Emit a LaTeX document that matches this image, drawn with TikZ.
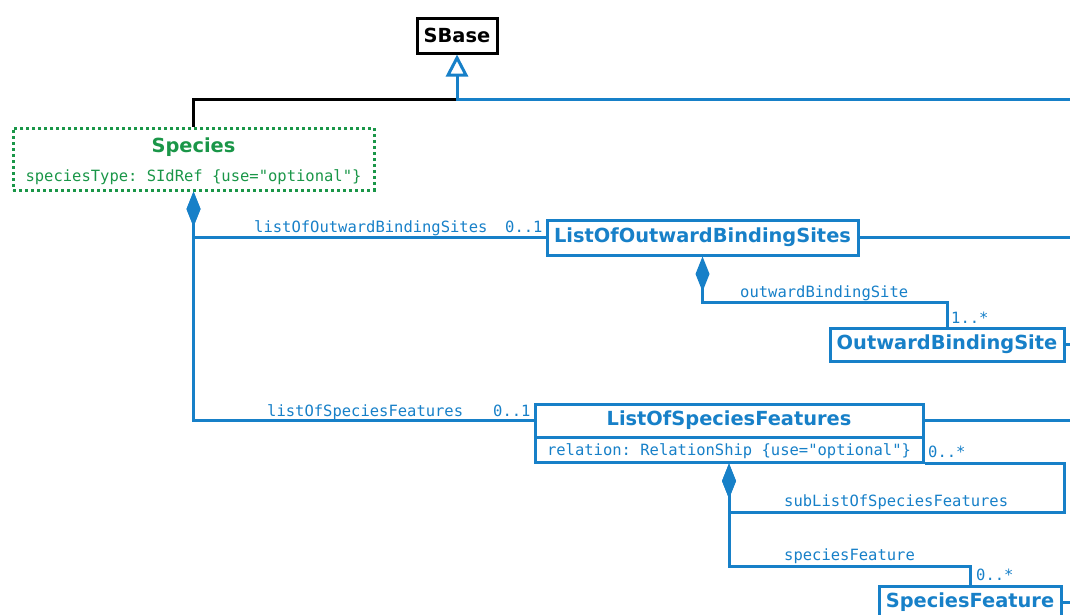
\documentclass[tikz,border=0pt]{standalone}
\usepackage{fontspec}
\setmainfont{DejaVu Sans}
\newfontfamily\monof{DejaVu Sans Mono}
\usetikzlibrary{arrows.meta}
\definecolor{umlblue}{RGB}{23,128,200}
\definecolor{umlgreen}{RGB}{26,150,72}
\frenchspacing
\tikzset{
  lw/.style={line width=3pt},
  cls/.style={draw=umlblue, lw, fill=white, inner sep=0pt,
    font=\bfseries\fontsize{19.4}{22}\selectfont, text=umlblue},
  attrbox/.style={draw=umlblue, lw, fill=white, inner sep=0pt,
    font=\monof\frenchspacing\fontsize{15.5}{18}\selectfont, text=umlblue},
  lbl/.style={font=\monof\frenchspacing\fontsize{15.5}{18}\selectfont, text=umlblue, inner sep=0pt, anchor=base west},
  assoc/.style={draw=umlblue, lw},
  comp/.style={assoc, {Diamond[length=35pt,width=14pt]}-},
  inh/.style={assoc, {Triangle[length=22pt,width=22pt,fill=white]}-},
}
\begin{document}
\begin{tikzpicture}[x=1pt,y=-1pt]
\useasboundingbox (0,0) rectangle (1070,614);
% classes
\node[cls, draw=black, text=black, minimum width=80pt, minimum height=35pt] (sbase) at (457,35.5) {SBase};
\node[draw=umlgreen, lw, dash pattern=on 3pt off 3pt, minimum width=361pt, minimum height=62pt, inner sep=0pt] (species) at (193.5,159) {};
\node[font=\bfseries\fontsize{19.4}{22}\selectfont, text=umlgreen, inner sep=0pt] (speciestitle) at (193.5,147.5) {Species};
\node[font=\monof\frenchspacing\fontsize{15.5}{18}\selectfont, text=umlgreen, inner sep=0pt, anchor=base] (speciesattr) at (193.5,181) {speciesType: SIdRef \{use="optional"\}};
\node[cls, minimum width=311pt, minimum height=35pt] (lobs) at (702.5,237.5) {ListOfOutwardBindingSites};
\node[cls, minimum width=234pt, minimum height=33pt] (obs) at (947,344.5) {OutwardBindingSite};
\node[cls, minimum width=388pt, minimum height=33pt] (lsf) at (729,420.5) {ListOfSpeciesFeatures};
\node[attrbox, minimum width=388pt, minimum height=25pt] (lsfattr) at (729,449.5) {};
\node[font=\monof\frenchspacing\fontsize{15.5}{18}\selectfont, text=umlblue, inner sep=0pt, anchor=base] (lsfattrtext) at (729,455) {relation: RelationShip \{use="optional"\}};
\node[cls, minimum width=182pt, minimum height=33pt] (sf) at (970,602.5) {SpeciesFeature};
% helper coordinates
\coordinate (inhJ) at (457,99);
\coordinate (inhR) at (1070,99);
\coordinate (lobsR) at (1070,237.5);
\coordinate (obsR) at (1070,344.5);
\coordinate (lsfR) at (1070,420.5);
\coordinate (sfR) at (1070,602.5);
\coordinate (j1) at (947,302);
\coordinate (c1) at (1064,512);
\coordinate (c2) at (970,566);
% inheritance
\draw[black, lw] (species.north) |- (inhJ);
\draw[inh] (sbase.south) |- (inhR);
% lines off to the right
\draw[assoc] (lobs.east) -- (lobsR);
\draw[assoc] (obs.east) -- (obsR);
\draw[assoc] (lsf.east) -- (lsfR);
\draw[assoc] (sf.east) -- (sfR);
% compositions
\draw[comp] (species.south) |- (lobs.west);
\draw[comp] (species.south) |- (lsf.west);
\draw[comp] (lobs.south) |- (j1) -- (obs.north);
\draw[comp] (lsfattr.south) |- (c1) |- (lsfattr.south east);
\draw[comp] (lsfattr.south) |- (c2) -- (sf.north);
% labels
\node[lbl] (l1) at (254,232.5) {listOfOutwardBindingSites};
\node[lbl] (m1) at (505,232.5) {0..1};
\node[lbl] (l2) at (740,297.5) {outwardBindingSite};
\node[lbl] (m2) at (951,323) {1..*};
\node[lbl] (l3) at (267,416) {listOfSpeciesFeatures};
\node[lbl] (m3) at (493,416) {0..1};
\node[lbl] (m4) at (928,457) {0..*};
\node[lbl] (l4) at (784,506.5) {subListOfSpeciesFeatures};
\node[lbl] (l5) at (784,560.5) {speciesFeature};
\node[lbl] (m5) at (976,580.5) {0..*};
\end{tikzpicture}
\end{document}
